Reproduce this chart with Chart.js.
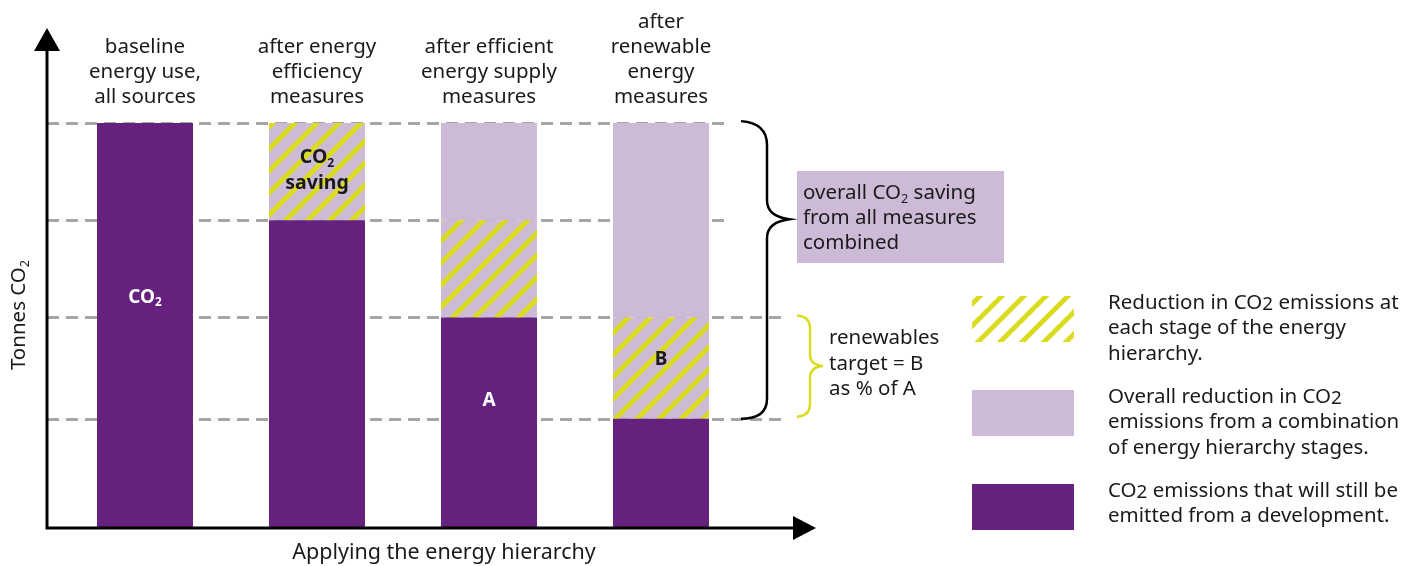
<!DOCTYPE html>
<html>
<head>
<meta charset="utf-8">
<title>Applying the energy hierarchy</title>
<script src="https://cdn.jsdelivr.net/npm/chart.js"></script>
<style>
  body { margin: 0; background: #fff; }
  #wrap { width: 1421px; height: 566px; }
</style>
</head>
<body>
<div id="wrap"><canvas id="my-chart" width="1421" height="566"></canvas></div>
<script>
// stages along the x axis (multi-line labels)
var categories = [
  ["baseline", "energy use,", "all sources"],
  ["after energy", "efficiency", "measures"],
  ["after efficient", "energy supply", "measures"],
  ["after", "renewable", "energy", "measures"]
];
// tonnes CO2 (relative units, baseline = 100)
var remaining = [100, 76, 52, 27];     // still emitted
var stageSaving = [0, 24, 24, 25];     // saved at this stage (hatched)
var earlierSaving = [0, 0, 24, 48];    // saved at earlier stages
var guideLevels = [100, 76, 52, 27];
var yMax = 123;

var purple = "rgb(101, 33, 126)";
var lilac = "rgb(205, 186, 215)";
var yellow = "rgb(218, 220, 32)";
var grey = "rgb(166, 166, 166)";
var ink = "#1a1a1a";
var fontFamily = '"Noto Sans", "Open Sans", sans-serif';
var textSize = 20.5;

function makeHatch(bg) {
  var size = 22;
  var c = document.createElement("canvas");
  c.width = size;
  c.height = size;
  var g = c.getContext("2d");
  g.fillStyle = bg;
  g.fillRect(0, 0, size, size);
  g.strokeStyle = yellow;
  g.lineWidth = 5;
  g.beginPath();
  g.moveTo(-size, size);
  g.lineTo(size, -size);
  g.moveTo(0, size);
  g.lineTo(size, 0);
  g.moveTo(0, 2 * size);
  g.lineTo(2 * size, 0);
  g.stroke();
  return document.getElementById("my-chart").getContext("2d").createPattern(c, "repeat");
}

// parts: [text, kind] where kind is undefined, "sub" (small subscript) or "low" (big subscript)
function richText(ctx, parts, x, y, size, weight, align, color) {
  function setFont(p) {
    var s = size;
    if (p[1] === "sub") s = size * 0.62;
    if (p[1] === "low") s = size * 0.92;
    ctx.font = (weight || "normal") + " " + s + "px " + fontFamily;
  }
  var w = 0;
  parts.forEach(function (p) {
    setFont(p);
    w += ctx.measureText(p[0]).width;
  });
  var cx = x;
  if (align === "center") cx = x - w / 2;
  ctx.fillStyle = color || ink;
  ctx.textAlign = "left";
  ctx.textBaseline = "middle";
  parts.forEach(function (p) {
    setFont(p);
    var dy = 0;
    if (p[1] === "sub") dy = size * 0.3;
    if (p[1] === "low") dy = size * 0.1;
    ctx.fillText(p[0], cx, y + dy);
    cx += ctx.measureText(p[0]).width;
  });
}

var legendItems = [
  { swatch: "hatch", top: 296, lines: [
    [["Reduction in CO"], ["2", "low"], [" emissions at"]],
    [["each stage of the energy"]],
    [["hierarchy."]]
  ] },
  { swatch: "lilac", top: 390, lines: [
    [["Overall reduction in CO"], ["2", "low"]],
    [["emissions from a combination"]],
    [["of energy hierarchy stages."]]
  ] },
  { swatch: "purple", top: 484, lines: [
    [["CO"], ["2", "low"], [" emissions that will still be"]],
    [["emitted from a development."]]
  ] }
];

var diagramPlugin = {
  id: "diagram",
  beforeDatasetsDraw: function (chart) {
    var ctx = chart.ctx;
    var y = chart.scales.y;
    ctx.save();
    ctx.strokeStyle = grey;
    ctx.lineWidth = 3;
    ctx.setLineDash([12, 7]);
    guideLevels.forEach(function (v, i) {
      var py = Math.round(y.getPixelForValue(v)) + 0.5;
      ctx.beginPath();
      ctx.moveTo(47, py);
      ctx.lineTo(i < 2 ? 731 : 788, py);
      ctx.stroke();
    });
    ctx.restore();
  },
  afterDatasetsDraw: function (chart) {
    var ctx = chart.ctx;
    var x = chart.scales.x;
    var y = chart.scales.y;
    var y0 = y.getPixelForValue(0);
    ctx.save();

    // axes with arrows
    ctx.strokeStyle = "#000";
    ctx.fillStyle = "#000";
    ctx.lineWidth = 3;
    ctx.beginPath();
    ctx.moveTo(47, y0 + 1.5);
    ctx.lineTo(47, 48);
    ctx.moveTo(45.5, y0);
    ctx.lineTo(796, y0);
    ctx.stroke();
    ctx.beginPath();
    ctx.moveTo(47, 28);
    ctx.lineTo(34, 51);
    ctx.lineTo(60, 51);
    ctx.closePath();
    ctx.fill();
    ctx.beginPath();
    ctx.moveTo(816, y0);
    ctx.lineTo(793, y0 - 12);
    ctx.lineTo(793, y0 + 12);
    ctx.closePath();
    ctx.fill();

    // axis titles
    richText(ctx, [["Applying the energy hierarchy"]], 444, 553, textSize + 1, "normal", "center");
    ctx.save();
    ctx.translate(19, 315);
    ctx.rotate(-Math.PI / 2);
    richText(ctx, [["Tonnes CO"], ["2", "sub"]], 0, 0, textSize, "normal", "center");
    ctx.restore();

    // stage labels above the bars
    categories.forEach(function (lines, i) {
      var cx = x.getPixelForValue(i);
      lines.forEach(function (t, j) {
        var ly = 97 - (lines.length - 1 - j) * 25;
        richText(ctx, [[t]], cx, ly, textSize, "normal", "center");
      });
    });

    // labels inside bars
    richText(ctx, [["CO"], ["2", "sub"]], x.getPixelForValue(0), y.getPixelForValue(57), 19, "bold", "center", "#fff");
    richText(ctx, [["CO"], ["2", "sub"]], x.getPixelForValue(1), y.getPixelForValue(91.5), 19.5, "bold", "center", ink);
    richText(ctx, [["saving"]], x.getPixelForValue(1), y.getPixelForValue(85), 19.5, "bold", "center", ink);
    richText(ctx, [["A"]], x.getPixelForValue(2), y.getPixelForValue(31.5), 19, "bold", "center", "#fff");
    richText(ctx, [["B"]], x.getPixelForValue(3), y.getPixelForValue(41.5), 19, "bold", "center", ink);

    // black brace: overall saving
    var bt = y.getPixelForValue(guideLevels[0]) - 2;
    var bm = y.getPixelForValue(guideLevels[1]);
    var bb = y.getPixelForValue(guideLevels[3]);
    ctx.strokeStyle = "#000";
    ctx.lineWidth = 2.5;
    ctx.beginPath();
    ctx.moveTo(741, bt);
    ctx.quadraticCurveTo(767, bt + 2, 767, bt + 24);
    ctx.lineTo(767, bm - 20);
    ctx.quadraticCurveTo(767, bm - 4, 789, bm - 1);
    ctx.quadraticCurveTo(767, bm + 2, 767, bm + 18);
    ctx.lineTo(767, bb - 20);
    ctx.quadraticCurveTo(767, bb, 741, bb);
    ctx.stroke();

    ctx.fillStyle = lilac;
    ctx.fillRect(797, 171, 207, 92);
    richText(ctx, [["overall CO"], ["2", "sub"], [" saving"]], 803, 193, textSize, "normal", "left");
    richText(ctx, [["from all measures"]], 803, 218, textSize, "normal", "left");
    richText(ctx, [["combined"]], 803, 243, textSize, "normal", "left");

    // yellow brace: renewables target
    var yt = y.getPixelForValue(guideLevels[2]) - 2;
    var yb = y.getPixelForValue(guideLevels[3]) - 2;
    var ym = (yt + yb) / 2;
    ctx.strokeStyle = yellow;
    ctx.beginPath();
    ctx.moveTo(797, yt);
    ctx.quadraticCurveTo(810, yt + 1, 810, yt + 13);
    ctx.lineTo(810, ym - 12);
    ctx.quadraticCurveTo(810, ym - 1, 823, ym);
    ctx.quadraticCurveTo(810, ym + 1, 810, ym + 12);
    ctx.lineTo(810, yb - 13);
    ctx.quadraticCurveTo(810, yb - 1, 797, yb);
    ctx.stroke();
    richText(ctx, [["renewables"]], 829, 338, textSize, "normal", "left");
    richText(ctx, [["target = B"]], 829, 364, textSize, "normal", "left");
    richText(ctx, [["as % of A"]], 829, 389, textSize, "normal", "left");

    // legend
    legendItems.forEach(function (item) {
      if (item.swatch === "hatch") ctx.fillStyle = whiteHatch;
      if (item.swatch === "lilac") ctx.fillStyle = lilac;
      if (item.swatch === "purple") ctx.fillStyle = purple;
      ctx.fillRect(972, item.top, 102, 46);
      item.lines.forEach(function (parts, j) {
        richText(ctx, parts, 1108, item.top + 7 + j * 25.5, textSize, "normal", "left");
      });
    });

    ctx.restore();
  }
};

var lilacHatch = makeHatch(lilac);
var whiteHatch = makeHatch("#fff");

var ctx = document.getElementById("my-chart").getContext("2d");
var myChart = new Chart(ctx, {
  type: "bar",
  data: {
    labels: categories,
    datasets: [
      { label: "CO2 still emitted", data: remaining, backgroundColor: purple },
      { label: "Reduction at this stage", data: stageSaving, backgroundColor: lilacHatch },
      { label: "Overall reduction", data: earlierSaving, backgroundColor: lilac }
    ]
  },
  options: {
    responsive: false,
    animation: false,
    devicePixelRatio: 1,
    layout: { padding: { left: 59, right: 674, top: 30, bottom: 38 } },
    datasets: {
      bar: { barPercentage: 0.558, categoryPercentage: 1, borderWidth: 0 }
    },
    scales: {
      x: { stacked: true, display: false },
      y: { stacked: true, display: false, min: 0, max: yMax }
    },
    plugins: {
      legend: { display: false },
      tooltip: { enabled: false }
    }
  },
  plugins: [diagramPlugin]
});
</script>
</body>
</html>
